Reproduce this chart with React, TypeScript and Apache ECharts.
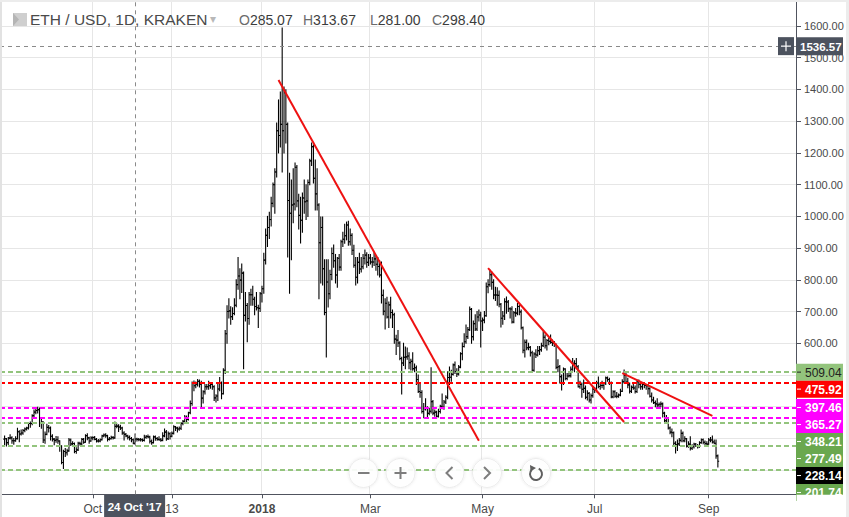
import React, { useEffect, useRef } from 'react';
import * as echarts from 'echarts';

// ---------- data ----------
const axisStartDate = '2017-08-12';
const axisEndDate = '2018-10-18';
const firstBarDate = '2017-08-14';

// daily bars: [open, high, low, close]
const aug2017 = [[298,308,280,299],[299,300,276,287],[287,303,281,301],[301,312,298,302],[302,305,285,293],[293,300,282,293],[293,305,291,299],[299,332,298,321],[321,324,290,314],[314,327,311,317],[317,328,313,325],[325,333,321,330],[330,335,327,333],[333,350,330,347],[347,352,335,347],[347,375,343,372],[372,390,366,383],[383,392,378,388]];
const sep2017 = [[388,398,380,391],[391,396,338,348],[348,360,332,352],[352,353,287,295],[295,320,285,313],[313,345,312,335],[335,341,320,333],[333,336,295,307],[307,312,292,298],[298,300,280,294],[294,306,288,296],[296,305,285,292],[292,293,260,276],[276,277,220,224],[224,263,205,259],[259,268,243,255],[255,266,248,261],[261,300,260,295],[295,298,278,283],[283,290,280,284],[284,286,255,259],[259,271,253,264],[264,288,262,285],[285,288,279,283],[283,300,281,297],[297,300,285,288],[288,312,288,309],[309,315,296,302],[302,304,285,292],[292,305,291,302]];
const oct2017 = [[302,305,296,303],[303,306,296,297],[297,300,289,292],[292,297,289,292],[292,298,290,296],[296,310,295,308],[308,314,305,311],[311,315,304,309],[309,310,292,297],[297,303,295,299],[299,307,298,303],[303,306,298,302],[302,352,301,338],[338,346,334,339],[339,343,322,336],[336,342,328,333],[333,335,313,317],[317,321,295,313],[313,316,305,308],[308,310,298,304],[304,308,295,300],[300,303,290,296],[296,298,283,285.07],[285.07,313.67,281,298.4],[298.4,301,292,297],[297,300,293,296],[296,300,292,296],[296,298,291,294],[294,310,292,304],[304,309,301,306],[306,311,302,305]];
const nov2017 = [[305,307,286,291],[291,295,282,287],[287,308,286,305],[305,308,294,300],[300,303,294,297],[297,305,294,296],[296,300,291,294],[294,318,293,308],[308,330,305,320],[320,325,294,299],[299,320,297,315],[315,318,298,307],[307,320,305,316],[316,340,314,337],[337,338,325,333],[333,335,320,330],[330,336,326,332],[332,350,328,347],[347,357,343,354],[354,372,352,367],[367,371,347,360],[360,383,358,381],[381,418,378,410],[410,478,405,474],[474,481,450,466],[466,478,460,471],[471,486,465,480],[480,484,462,471],[471,480,400,427],[427,450,412,447]];
const dec2017 = [[447,470,440,463],[463,470,455,463],[463,480,455,466],[466,474,458,470],[470,475,455,463],[463,466,420,428],[428,438,415,434],[434,470,420,456],[456,492,450,473],[473,478,425,441],[441,520,440,515],[515,640,505,630],[630,718,600,700],[700,740,680,702],[702,715,660,684],[684,712,675,694],[694,740,690,720],[720,800,715,785],[785,870,770,812],[812,835,740,799],[799,850,760,821],[821,825,520,688],[688,760,670,719],[719,725,605,678],[678,760,660,753],[753,770,720,753],[753,780,720,739],[739,745,690,716],[716,760,705,712],[712,720,650,710],[710,760,700,756]];
const jan2018 = [[756,780,730,772],[772,884,758,862],[862,960,850,940],[940,1000,905,965],[965,1013,930,990],[990,1060,970,1041],[1041,1105,1030,1100],[1100,1150,1010,1140],[1140,1294,1124,1270],[1270,1367,1200,1255],[1255,1392,1219,1290],[1290,1594,1140,1270],[1270,1408,1200,1390],[1390,1399,1231,1290],[1290,1294,872,1050],[1050,1136,758,1010],[1010,1115,863,1036],[1036,1150,980,1039],[1039,1168,1020,1155],[1155,1160,1030,1049],[1049,1070,960,1003],[1003,1060,916,988],[988,1074,950,1058],[1058,1115,1010,1046],[1046,1100,990,1049],[1049,1115,1000,1107],[1107,1180,1100,1175],[1175,1231,1160,1220],[1220,1225,1105,1120],[1120,1178,1020,1071],[1071,1150,1020,1036]];
const feb2018 = [[1036,1040,740,917],[917,998,790,965],[965,998,784,835],[835,863,690,697],[697,863,557,793],[793,863,714,756],[756,830,740,817],[817,900,800,883],[883,910,840,860],[860,880,790,815],[815,870,777,868],[868,880,830,840],[840,925,830,920],[920,950,905,928],[928,975,915,939],[939,982,926,973],[973,985,909,920],[920,960,910,940],[940,945,880,893],[893,909,840,846],[846,870,784,808],[808,870,790,855],[855,884,820,834],[834,870,825,841],[841,880,835,868],[868,894,850,878],[878,885,840,855],[855,880,845,869]];
const mar2018 = [[869,880,850,856],[856,870,840,856],[856,885,845,866],[866,875,830,849],[849,870,815,842],[842,860,809,815],[815,856,727,751],[751,768,690,701],[701,740,645,726],[726,745,680,683],[683,730,650,721],[721,745,680,697],[697,705,650,690],[690,695,600,613],[613,625,565,610],[610,640,590,601],[601,605,548,552],[552,556,440,538],[538,600,530,556],[556,588,520,557],[557,585,550,560],[560,570,520,539],[539,550,516,543],[543,570,515,520],[520,535,510,523],[523,528,470,486],[486,500,445,448],[448,470,430,445],[445,450,380,385],[385,410,365,394],[394,425,390,397]];
const apr2018 = [[397,400,365,379],[379,395,375,386],[386,523,380,416],[416,420,375,380],[380,390,370,383],[383,386,365,370],[370,392,368,385],[385,405,380,401],[401,440,394,398],[398,420,392,415],[415,435,410,430],[430,510,425,492],[492,525,470,493],[493,515,480,502],[502,535,500,532],[532,541,505,511],[511,520,495,503],[503,530,500,525],[525,570,523,567],[567,601,548,590],[590,630,588,605],[605,658,600,621],[621,650,615,643],[643,714,640,707],[707,710,600,621],[621,670,610,662],[662,690,640,645],[645,700,640,683],[683,705,670,689],[689,698,588,670]];
const may2018 = [[670,680,640,673],[673,700,665,687],[687,790,685,778],[778,800,759,785],[785,831,780,816],[816,825,770,792],[792,800,740,752],[752,777,735,752],[752,775,720,751],[751,765,715,723],[723,725,651,679],[679,700,660,686],[686,740,675,731],[731,746,695,730],[730,735,700,709],[709,712,680,708],[708,715,664,667],[667,700,665,696],[696,710,685,695],[695,725,690,716],[716,720,690,699],[699,705,645,649],[649,651,570,578],[578,610,557,603],[603,610,580,586],[586,600,580,587],[587,590,560,570],[570,575,510,515],[515,570,512,566],[566,580,555,563],[563,590,560,577]];
const jun2018 = [[577,590,565,580],[580,600,575,592],[592,636,590,619],[619,626,585,592],[592,612,579,609],[609,615,595,606],[606,626,600,603],[603,610,593,601],[601,606,590,597],[597,598,520,524],[524,548,510,526],[526,530,475,495],[495,500,453,475],[475,522,470,519],[519,520,485,489],[489,505,485,497],[497,510,494,498],[498,525,494,518],[518,552,515,537],[537,545,510,536],[536,552,520,526],[526,530,462,463],[463,480,458,470],[470,475,430,455],[455,484,445,458],[458,465,425,430],[430,450,421,442],[442,445,415,421],[421,440,412,435],[435,462,430,455]];
const jul2018 = [[455,460,445,453],[453,480,447,475],[475,494,460,464],[464,475,455,467],[467,480,460,467],[467,476,455,474],[474,494,470,491],[491,494,480,486],[486,490,470,473],[473,478,428,431],[431,450,428,447],[447,450,430,433],[433,445,428,433],[433,440,430,437],[437,455,435,449],[449,485,448,479],[479,516,475,499],[499,505,475,478],[478,490,460,469],[469,475,443,449],[449,465,445,461],[461,475,455,459],[459,465,443,448],[448,484,445,479],[479,484,460,471],[471,475,455,463],[463,475,455,470],[470,472,460,467],[467,470,455,466],[466,470,440,457],[457,460,431,433]];
const aug2018 = [[433,443,415,421],[421,430,410,413],[413,418,400,409],[409,425,400,406],[406,412,395,408],[408,415,400,409],[409,412,368,380],[380,383,350,356],[356,372,350,365],[365,366,330,333],[333,336,315,320],[320,330,305,318],[318,320,280,285],[285,290,254,280],[280,295,262,283],[283,300,278,294],[294,327,290,316],[316,320,290,293],[293,305,290,299],[299,300,273,276],[276,290,272,282],[282,305,264,269],[269,280,265,274],[274,285,270,282],[282,284,275,278],[278,281,270,274],[274,290,272,287],[287,298,285,296],[296,298,283,288],[288,292,276,284],[284,290,278,282]];
const sep2018 = [[282,300,282,295],[295,303,290,295],[295,308,286,289],[289,295,283,285],[285,295,238,245],[245,248,210,228.14]];

const xTickDates = ['2017-10-01', '2017-11-13', '2018-01-01', '2018-03-01', '2018-05-01', '2018-07-01', '2018-09-01'];
const xTickTexts = ['Oct', '13', '2018', 'Mar', 'May', 'Jul', 'Sep'];
const yTickValues = [200, 300, 400, 500, 600, 700, 800, 900, 1000, 1100, 1200, 1300, 1400, 1500, 1600];
// labels 200-500 sit behind the price tags in the reference
const yLabelValues = [600, 700, 800, 900, 1000, 1100, 1200, 1300, 1400, 1500, 1600];

const levelValues = [509.04, 475.92, 397.46, 365.27, 348.21, 277.49, 201.74];
const levelLineColors = ['#93c47d', '#ff0000', '#ff00ff', '#ff00ff', '#93c47d', '#93c47d', '#93c47d'];
const levelTagColors = ['#93c47d', '#ff0000', '#ff00ff', '#ff00ff', '#6aa84f', '#6aa84f', '#6aa84f'];
const levelTextColors = ['#222222', '#ffffff', '#ffffff', '#ffffff', '#ffffff', '#ffffff', '#ffffff'];
const lastPrice = 228.14;

const trendLines = [
  [['2018-01-10', 1430], ['2018-04-29', 293]],
  [['2018-05-04', 837], ['2018-07-17', 352]],
  [['2018-07-16', 506], ['2018-09-03', 371]],
];

const crossDate = '2017-10-24';
const crossDateText = "24 Oct '17";
const crossPrice = 1536.57;
const legend = { title: 'ETH / USD, 1D, KRAKEN', o: '285.07', h: '313.67', l: '281.00', c: '298.40' };

// ---------- helpers ----------
function dayList(a: string, b: string) {
  const out: string[] = [];
  const d = new Date(a + 'T00:00:00Z');
  const end = new Date(b + 'T00:00:00Z').getTime();
  while (d.getTime() <= end) {
    out.push(d.toISOString().slice(0, 10));
    d.setUTCDate(d.getUTCDate() + 1);
  }
  return out;
}

const categories = dayList(axisStartDate, axisEndDate);
const allBars: number[][] = ([] as number[][]).concat(aug2017, sep2017, oct2017, nov2017, dec2017, jan2018, feb2018, mar2018, apr2018, may2018, jun2018, jul2018, aug2018, sep2018);
const firstIndex = categories.indexOf(firstBarDate);
const barData = allBars.map((b, k) => [firstIndex + k, b[0], b[1], b[2], b[3]]);

const FONT = '"Liberation Sans", Arial, sans-serif';
const GRID_RIGHT = 53;
const GRID_BOTTOM = 22.7;
const tickFn = (_i: number, v: string) => xTickDates.indexOf(v) >= 0;

function buildOption(): any {
  return {
    animation: false,
    backgroundColor: '#ffffff',
    textStyle: { fontFamily: FONT },
    grid: { left: 0, right: GRID_RIGHT, top: 0, bottom: GRID_BOTTOM, containLabel: false },
    xAxis: {
      type: 'category',
      data: categories,
      boundaryGap: true,
      axisLine: { show: true, lineStyle: { color: '#50535e', width: 1 } },
      axisTick: { show: true, interval: tickFn, alignWithLabel: true, length: 4, lineStyle: { color: '#50535e' } },
      axisLabel: {
        interval: tickFn,
        color: '#4a4a4a',
        fontSize: 12,
        margin: 9,
        fontFamily: FONT,
        formatter: (v: string) => {
          const k = xTickDates.indexOf(v);
          if (k < 0) return '';
          return xTickTexts[k] === '2018' ? '{b|2018}' : xTickTexts[k];
        },
        rich: { b: { fontWeight: 'bold', fontSize: 12, color: '#4a4a4a', fontFamily: FONT } },
      },
      splitLine: { show: true, interval: tickFn, lineStyle: { color: '#e6e6e6', width: 1 } },
    },
    yAxis: {
      type: 'value',
      position: 'right',
      min: 124,
      max: 1682,
      axisLine: { show: true, lineStyle: { color: '#50535e', width: 1 } },
      axisTick: { show: true, length: 5, customValues: yTickValues, lineStyle: { color: '#50535e' } },
      axisLabel: {
        customValues: yLabelValues,
        color: '#4a4a4a',
        fontSize: 11,
        margin: 8,
        fontFamily: FONT,
        formatter: (v: number) => v.toFixed(2),
      },
      splitLine: { show: true, lineStyle: { color: '#e6e6e6', width: 1 } },
    },
    series: [
      {
        type: 'custom',
        name: 'ETH/USD',
        data: barData,
        encode: { x: 0, y: [1, 2, 3, 4] },
        clip: true,
        z: 2,
        renderItem: (params: any, api: any) => {
          const x = api.value(0);
          const o = api.coord([x, api.value(1)]);
          const h = api.coord([x, api.value(2)]);
          const l = api.coord([x, api.value(3)]);
          const c = api.coord([x, api.value(4)]);
          const st = { stroke: '#000000', lineWidth: 1.1 };
          const tw = 1.3;
          return {
            type: 'group',
            children: [
              { type: 'line', shape: { x1: h[0], y1: h[1] - 0.5, x2: l[0], y2: l[1] + 0.5 }, style: st },
              { type: 'line', shape: { x1: o[0] - tw, y1: o[1], x2: o[0], y2: o[1] }, style: st },
              { type: 'line', shape: { x1: c[0], y1: c[1], x2: c[0] + tw, y2: c[1] }, style: st },
            ],
          };
        },
        markLine: {
          silent: true,
          symbol: 'none',
          label: { show: false },
          emphasis: { disabled: true },
          data: [
            ...levelValues.map((v, k) => ({ yAxis: v, lineStyle: { color: levelLineColors[k], type: [5, 3], width: 2 } })),
            { xAxis: crossDate, lineStyle: { color: '#8a8a8a', type: [4, 4], width: 1 } },
            { yAxis: crossPrice, lineStyle: { color: '#8a8a8a', type: [4, 4], width: 1 } },
          ],
        },
      },
      ...trendLines.map((t, k) => ({
        type: 'line',
        name: 'trend' + k,
        data: t,
        showSymbol: false,
        symbol: 'none',
        z: 5,
        lineStyle: { color: '#ee1111', width: 2 },
        silent: true,
      })),
    ],
  };
}

function buildGraphic(chart: any): any[] {
  const py = (v: number) => chart.convertToPixel({ yAxisIndex: 0 }, v) as number;
  const cx = chart.convertToPixel({ xAxisIndex: 0 }, crossDate) as number;
  const cy = py(crossPrice);
  const els: any[] = [];
  const Z = 100;

  // price tags, pushed down so they do not overlap
  const tags = levelValues.map((v, k) => ({ v, bg: levelTagColors[k], fg: levelTextColors[k] }));
  tags.push({ v: lastPrice, bg: '#000000', fg: '#ffffff' });
  tags.sort((a, b) => b.v - a.v);
  const TAG_H = 17;
  let prev = -1e9;
  tags.forEach((t) => {
    let y = py(t.v);
    if (y < prev + TAG_H) y = prev + TAG_H;
    prev = y;
    const white = t.fg === '#ffffff';
    els.push({ type: 'rect', z: Z, shape: { x: 796, y: y - TAG_H / 2, width: 47, height: TAG_H }, style: { fill: t.bg } });
    els.push({ type: 'line', z: Z + 1, shape: { x1: 797, y1: y, x2: 801, y2: y }, style: { stroke: t.fg, lineWidth: 1 } });
    els.push({ type: 'text', z: Z + 1, style: { text: t.v.toFixed(2), x: 805, y: y + 0.5, fill: t.fg, fontSize: 12, fontWeight: white ? 'bold' : 'normal', fontFamily: FONT, verticalAlign: 'middle', align: 'left' } });
  });
  // white area under the price column (below plot)
  els.push({ type: 'rect', z: Z + 2, shape: { x: 796.5, y: 517 - GRID_BOTTOM + 0.5, width: 53, height: GRID_BOTTOM }, style: { fill: '#ffffff' } });

  // crosshair price label
  els.push({ type: 'rect', z: Z + 3, shape: { x: 778, y: cy - 9, width: 16, height: 18 }, style: { fill: '#4c525e' } });
  els.push({ type: 'line', z: Z + 4, shape: { x1: 781, y1: cy, x2: 791, y2: cy }, style: { stroke: '#ffffff', lineWidth: 1.2 } });
  els.push({ type: 'line', z: Z + 4, shape: { x1: 786, y1: cy - 5, x2: 786, y2: cy + 5 }, style: { stroke: '#ffffff', lineWidth: 1.2 } });
  els.push({ type: 'rect', z: Z + 3, shape: { x: 796, y: cy - 9, width: 47, height: 18 }, style: { fill: '#4c525e' } });
  els.push({ type: 'text', z: Z + 4, style: { text: crossPrice.toFixed(2), x: 800, y: cy + 0.5, fill: '#ffffff', fontSize: 11.5, fontWeight: 'bold', fontFamily: FONT, verticalAlign: 'middle' } });

  // crosshair date label
  els.push({ type: 'rect', z: Z + 3, shape: { x: cx - 31, y: 495, width: 61, height: 22 }, style: { fill: '#4c525e' } });
  els.push({ type: 'text', z: Z + 4, style: { text: crossDateText, x: cx - 0.5, y: 507, fill: '#ffffff', fontSize: 11.5, fontWeight: 'bold', fontFamily: FONT, verticalAlign: 'middle', align: 'center' } });

  // header legend
  els.push({ type: 'rect', z: Z, shape: { x: 13, y: 13, width: 14, height: 13 }, style: { fill: '#cfcfcf' } });
  els.push({ type: 'polygon', z: Z + 1, shape: { points: [[13, 13], [19, 19.5], [13, 26]] }, style: { fill: '#b5b5b5' } });
  els.push({ type: 'text', z: Z, style: { text: legend.title, x: 30, y: 19.5, fill: '#4a4a4a', fontSize: 15.5, fontFamily: FONT, verticalAlign: 'middle' } });
  els.push({ type: 'text', z: Z, style: { text: '▾', x: 210, y: 19, fill: '#b8b8b8', fontSize: 12, fontFamily: FONT, verticalAlign: 'middle' } });
  const ohlc: [string, string, number][] = [['O', legend.o, 239], ['H', legend.h, 303], ['L', legend.l, 370], ['C', legend.c, 432]];
  ohlc.forEach(([k, v, x]) => {
    els.push({
      type: 'text', z: Z,
      style: {
        text: `{k|${k}}{v|${v}}`, x, y: 19.5, verticalAlign: 'middle',
        rich: {
          k: { fill: '#6b6b6b', fontSize: 14, fontFamily: FONT },
          v: { fill: '#3c3c3c', fontSize: 14, fontFamily: FONT },
        },
      },
    });
  });

  // navigation buttons
  const btnY = 473;
  const btnX = [363.5, 400.5, 449.5, 487, 536];
  btnX.forEach((x) => {
    els.push({ type: 'circle', z: Z, shape: { cx: x, cy: btnY, r: 14.5 }, style: { fill: 'rgba(255,255,255,0.92)', stroke: '#ececec', lineWidth: 1, shadowBlur: 3, shadowColor: 'rgba(0,0,0,0.10)' } });
  });
  const ic = { stroke: '#7d7d7d', lineWidth: 2, fill: null };
  els.push({ type: 'line', z: Z + 1, shape: { x1: 358, y1: btnY, x2: 369.5, y2: btnY }, style: ic });
  els.push({ type: 'line', z: Z + 1, shape: { x1: 394.5, y1: btnY, x2: 406.5, y2: btnY }, style: ic });
  els.push({ type: 'line', z: Z + 1, shape: { x1: 400.5, y1: btnY - 6, x2: 400.5, y2: btnY + 6 }, style: ic });
  els.push({ type: 'polyline', z: Z + 1, shape: { points: [[452.5, btnY - 6], [446.5, btnY], [452.5, btnY + 6]] }, style: ic });
  els.push({ type: 'polyline', z: Z + 1, shape: { points: [[484, btnY - 6], [490, btnY], [484, btnY + 6]] }, style: ic });
  els.push({ type: 'arc', z: Z + 1, shape: { cx: 536, cy: btnY + 1, r: 6, startAngle: -Math.PI * 0.35, endAngle: Math.PI * 1.25, clockwise: true }, style: { stroke: '#5f5f5f', lineWidth: 2, fill: null } });
  els.push({ type: 'polygon', z: Z + 1, shape: { points: [[530, btnY - 8], [536, btnY - 5], [530.5, btnY - 1.5]] }, style: { fill: '#5f5f5f' } });

  // frame edges
  els.push({ type: 'rect', z: Z + 5, shape: { x: 0, y: 0, width: 2, height: 517 }, style: { fill: '#e2e2e2' } });
  els.push({ type: 'rect', z: Z + 5, shape: { x: 0, y: 0, width: 849, height: 2 }, style: { fill: '#ececec' } });
  els.push({ type: 'rect', z: Z + 5, shape: { x: 846, y: 0, width: 3, height: 517 }, style: { fill: '#ececec' } });
  return els;
}

export default function App() {
  const ref = useRef<HTMLDivElement>(null);
  useEffect(() => {
    document.body.style.margin = '0';
    document.body.style.overflow = 'hidden';
    if (!ref.current) return;
    const chart = echarts.init(ref.current, undefined, { renderer: 'svg' });
    chart.setOption(buildOption());
    chart.setOption({ graphic: buildGraphic(chart) });
    return () => chart.dispose();
  }, []);
  return <div ref={ref} style={{ width: 849, height: 517 }} />;
}
